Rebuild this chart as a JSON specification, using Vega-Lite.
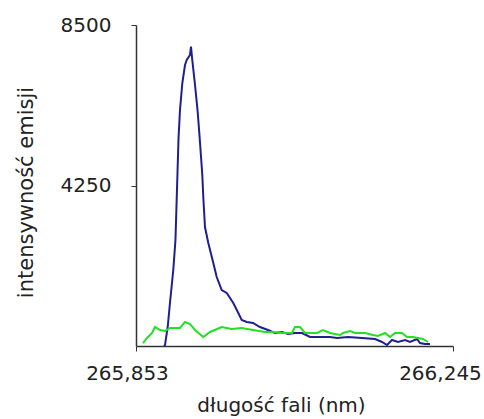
{
  "$schema": "https://vega.github.io/schema/vega-lite/v6.json",
  "autosize": "none",
  "width": 317,
  "height": 321,
  "padding": {"left": 136, "top": 25, "right": 31, "bottom": 73},
  "background": "white",
  "config": {
    "view": {"stroke": null},
    "font": "DejaVu Sans"
  },
  "data": {
    "values": [
      {"s": "A", "x": 265.8876, "y": 0},
      {"s": "A", "x": 265.8889, "y": 26},
      {"s": "A", "x": 265.8922, "y": 503},
      {"s": "A", "x": 265.8950, "y": 1139},
      {"s": "A", "x": 265.8991, "y": 2012},
      {"s": "A", "x": 265.9018, "y": 2807},
      {"s": "A", "x": 265.9043, "y": 4581},
      {"s": "A", "x": 265.9056, "y": 5508},
      {"s": "A", "x": 265.9074, "y": 6249},
      {"s": "A", "x": 265.9103, "y": 6964},
      {"s": "A", "x": 265.9136, "y": 7441},
      {"s": "A", "x": 265.9157, "y": 7573},
      {"s": "A", "x": 265.9198, "y": 7706},
      {"s": "A", "x": 265.9210, "y": 7925},
      {"s": "A", "x": 265.9226, "y": 7573},
      {"s": "A", "x": 265.9260, "y": 6911},
      {"s": "A", "x": 265.9293, "y": 6196},
      {"s": "A", "x": 265.9321, "y": 5402},
      {"s": "A", "x": 265.9350, "y": 4528},
      {"s": "A", "x": 265.9362, "y": 3946},
      {"s": "A", "x": 265.9383, "y": 3151},
      {"s": "A", "x": 265.9424, "y": 2727},
      {"s": "A", "x": 265.9486, "y": 2198},
      {"s": "A", "x": 265.9528, "y": 1827},
      {"s": "A", "x": 265.9590, "y": 1483},
      {"s": "A", "x": 265.9652, "y": 1403},
      {"s": "A", "x": 265.9733, "y": 1139},
      {"s": "A", "x": 265.9795, "y": 874},
      {"s": "A", "x": 265.9837, "y": 688},
      {"s": "A", "x": 265.9899, "y": 636},
      {"s": "A", "x": 265.9977, "y": 609},
      {"s": "A", "x": 266.0063, "y": 503},
      {"s": "A", "x": 266.0162, "y": 424},
      {"s": "A", "x": 266.0249, "y": 344},
      {"s": "A", "x": 266.0335, "y": 371},
      {"s": "A", "x": 266.0410, "y": 318},
      {"s": "A", "x": 266.0496, "y": 344},
      {"s": "A", "x": 266.0583, "y": 344},
      {"s": "A", "x": 266.0682, "y": 238},
      {"s": "A", "x": 266.0805, "y": 238},
      {"s": "A", "x": 266.0929, "y": 238},
      {"s": "A", "x": 266.1016, "y": 212},
      {"s": "A", "x": 266.1152, "y": 238},
      {"s": "A", "x": 266.1325, "y": 212},
      {"s": "A", "x": 266.1486, "y": 185},
      {"s": "A", "x": 266.1572, "y": 106},
      {"s": "A", "x": 266.1634, "y": 26},
      {"s": "A", "x": 266.1696, "y": 159},
      {"s": "A", "x": 266.1770, "y": 106},
      {"s": "A", "x": 266.1857, "y": 159},
      {"s": "A", "x": 266.1918, "y": 106},
      {"s": "A", "x": 266.2005, "y": 185},
      {"s": "A", "x": 266.2042, "y": 79},
      {"s": "A", "x": 266.2104, "y": 53},
      {"s": "A", "x": 266.2166, "y": 53},
      {"s": "B", "x": 265.8617, "y": 79},
      {"s": "B", "x": 265.8666, "y": 212},
      {"s": "B", "x": 265.8728, "y": 344},
      {"s": "B", "x": 265.8765, "y": 503},
      {"s": "B", "x": 265.8827, "y": 424},
      {"s": "B", "x": 265.8889, "y": 397},
      {"s": "B", "x": 265.8950, "y": 477},
      {"s": "B", "x": 265.9074, "y": 477},
      {"s": "B", "x": 265.9136, "y": 636},
      {"s": "B", "x": 265.9198, "y": 583},
      {"s": "B", "x": 265.9260, "y": 424},
      {"s": "B", "x": 265.9362, "y": 238},
      {"s": "B", "x": 265.9445, "y": 371},
      {"s": "B", "x": 265.9590, "y": 503},
      {"s": "B", "x": 265.9713, "y": 450},
      {"s": "B", "x": 265.9837, "y": 477},
      {"s": "B", "x": 265.9977, "y": 424},
      {"s": "B", "x": 266.0125, "y": 371},
      {"s": "B", "x": 266.0224, "y": 371},
      {"s": "B", "x": 266.0348, "y": 344},
      {"s": "B", "x": 266.0459, "y": 344},
      {"s": "B", "x": 266.0496, "y": 503},
      {"s": "B", "x": 266.0558, "y": 503},
      {"s": "B", "x": 266.0620, "y": 344},
      {"s": "B", "x": 266.0768, "y": 344},
      {"s": "B", "x": 266.0842, "y": 424},
      {"s": "B", "x": 266.0929, "y": 344},
      {"s": "B", "x": 266.1053, "y": 291},
      {"s": "B", "x": 266.1090, "y": 344},
      {"s": "B", "x": 266.1177, "y": 397},
      {"s": "B", "x": 266.1238, "y": 344},
      {"s": "B", "x": 266.1362, "y": 344},
      {"s": "B", "x": 266.1461, "y": 291},
      {"s": "B", "x": 266.1523, "y": 265},
      {"s": "B", "x": 266.1610, "y": 344},
      {"s": "B", "x": 266.1671, "y": 238},
      {"s": "B", "x": 266.1733, "y": 344},
      {"s": "B", "x": 266.1819, "y": 344},
      {"s": "B", "x": 266.1881, "y": 238},
      {"s": "B", "x": 266.1955, "y": 238},
      {"s": "B", "x": 266.2017, "y": 212},
      {"s": "B", "x": 266.2079, "y": 185},
      {"s": "B", "x": 266.2141, "y": 106}
    ]
  },
  "mark": {"type": "line", "strokeWidth": 2, "interpolate": "linear"},
  "encoding": {
    "x": {
      "field": "x",
      "type": "quantitative",
      "scale": {"domain": [265.853, 266.245], "nice": false, "zero": false},
      "axis": {
        "values": [265.853, 266.245],
        "labelExpr": "replace(format(datum.value, '.3f'), '.', ',')",
        "title": "długość fali (nm)",
        "grid": false,
        "domainColor": "#333333",
        "domainWidth": 1.5,
        "tickColor": "#333333",
        "tickSize": 5,
        "labelFontSize": 20,
        "labelColor": "#222222",
        "labelPadding": 12,
        "labelOffset": {"expr": "datum.value < 266 ? -9 : -13"},
        "labelFlush": false,
        "labelOverlap": false,
        "titleFontSize": 20,
        "titleFontWeight": "normal",
        "titleColor": "#222222",
        "titleX": 145,
        "titleY": 49
      }
    },
    "y": {
      "field": "y",
      "type": "quantitative",
      "scale": {"domain": [0, 8500], "nice": false},
      "axis": {
        "values": [4250, 8500],
        "format": "d",
        "title": "intensywność emisji",
        "grid": false,
        "domainColor": "#333333",
        "domainWidth": 1.5,
        "tickColor": "#333333",
        "tickSize": 5,
        "labelFontSize": 20,
        "labelColor": "#222222",
        "labelPadding": 20,
        "labelFlush": false,
        "titleFontSize": 21,
        "titleFontWeight": "normal",
        "titleColor": "#222222",
        "titleX": -100,
        "titleY": 167
      }
    },
    "color": {
      "field": "s",
      "type": "nominal",
      "scale": {"domain": ["A", "B"], "range": ["#1f1f8f", "#22e022"]},
      "legend": null
    }
  }
}
